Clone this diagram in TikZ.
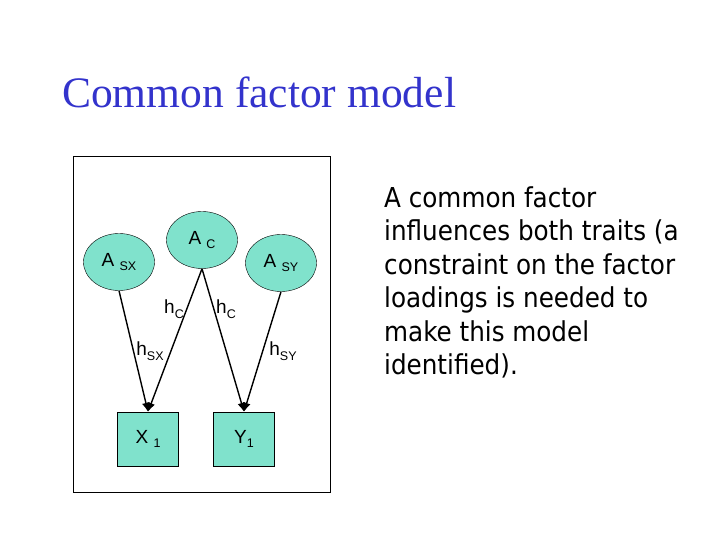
\documentclass[tikz,border=0pt]{standalone}
\usepackage{fontspec}
\usepackage{xcolor}
\usepackage{tikz}
\usetikzlibrary{arrows.meta,shapes.geometric}
\setmainfont{Liberation Sans}
\newfontfamily\titlefont{Liberation Serif}
\newfontfamily\notefont{DejaVu Sans Condensed}
\definecolor{titleblue}{RGB}{51,51,204}
\definecolor{factorfill}{RGB}{128,226,204}
\newcommand{\lowtext}[1]{\raisebox{-0.25em}{\fontsize{12.5bp}{13bp}\selectfont #1}}

\begin{document}
\begin{tikzpicture}[x=1bp, y=-1bp, every node/.style={font=\fontsize{19bp}{21bp}\selectfont},
  latent/.style={ellipse, draw=black, fill=factorfill, minimum width=71bp, minimum height=57bp, inner sep=0pt},
  observed/.style={rectangle, draw=black, fill=factorfill, minimum width=61bp, minimum height=54bp, inner sep=0pt},
  path/.style={line width=1.4bp, -{Latex[length=9bp,width=8bp]}}]
\useasboundingbox (0,0) rectangle (720,540);
% Title
\node[anchor=base west, inner sep=0pt, font=\titlefont\fontsize{43.5bp}{46bp}\selectfont, text=titleblue] (title) at (62,108) {Common factor model};
% Frame round the model
\draw[line width=0.8bp] (73,156) rectangle (330,492);
% Latent factors
\node[latent] (asx) at (119,262) {A \lowtext{SX}};
\node[latent] (ac) at (202,240) {A \lowtext{C}};
\node[latent] (asy) at (281,263) {A \lowtext{SY}};
% Observed traits
\node[observed] (x1) at (148,439) {X \lowtext{1}};
\node[observed] (y1) at (244,439) {Y\lowtext{1}};
% Loadings
\draw[path] (asx.south) -- (x1.north);
\draw[path] (ac.south) -- (x1.north);
\draw[path] (ac.south) -- (y1.north);
\draw[path] (asy.south) -- (y1.north);
\node (hcx) at (174,309) {h\lowtext{C}};
\node (hcy) at (226,309) {h\lowtext{C}};
\node (hsx) at (150,351) {h\lowtext{SX}};
\node (hsy) at (283,351) {h\lowtext{SY}};
% Note
\node[anchor=north west, inner sep=0pt, align=left, font=\notefont\fontsize{27.4bp}{33.5bp}\selectfont] (note) at (384,186) {A common factor\\influences both traits (a\\constraint on the factor\\loadings is needed to\\make this model\\identified).};
\end{tikzpicture}
\end{document}
